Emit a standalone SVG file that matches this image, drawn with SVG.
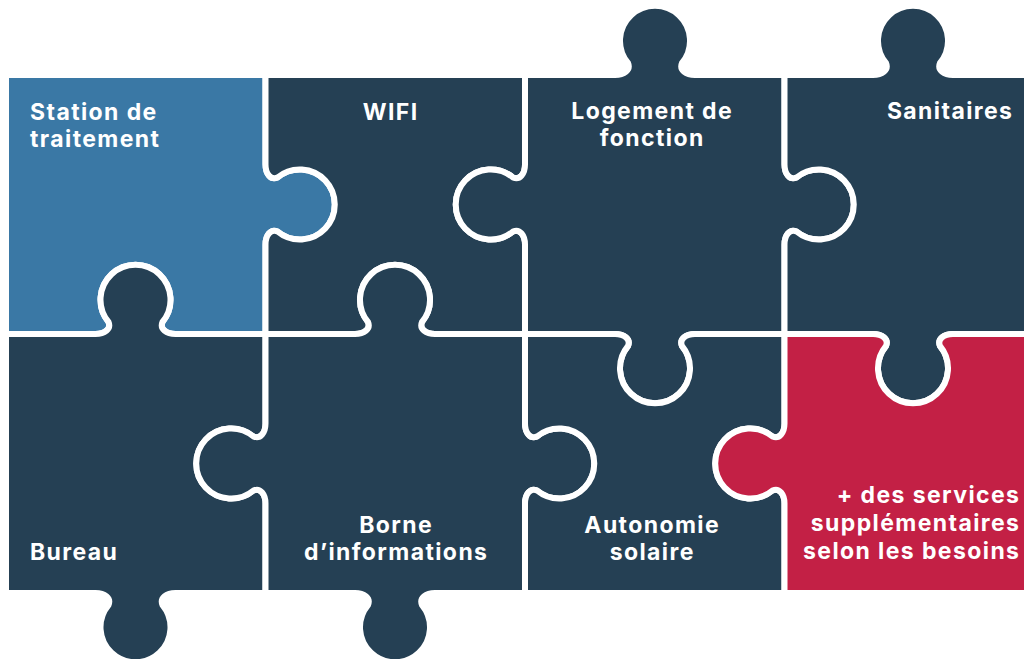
<svg xmlns="http://www.w3.org/2000/svg" width="1024" height="659" viewBox="0 0 1024 659">
<style>
.pc{stroke:#ffffff;stroke-width:6;stroke-linejoin:round}
.blue{fill:#3A78A5}
.navy{fill:#254054}
.red{fill:#C32045}
.t{font-family:Inter,"Open Sans","Liberation Sans",sans-serif;font-weight:700;font-size:23px;letter-spacing:1.4px;fill:#ffffff}
.m{text-anchor:middle}
.e{text-anchor:end}
</style>
<rect width="1024" height="659" fill="#ffffff"/>
<g id="station">
<path class="pc blue" d="M6,75 H265.5 V164.5 C265.5,173.5 270.5,180.5 277.5,177.5 A35,35 0 1,1 277.5,231.5 C270.5,228.5 265.5,235.5 265.5,244.5 V334 H175.5 C166.5,334 159.5,329 162.5,322 A35,35 0 1,0 108.5,322 C111.5,329 104.5,334 95.5,334 H6 Z"/>
<text class="t" x="30" y="119.5">Station de</text>
<text class="t" x="30" y="147">traitement</text>
</g>
<g id="wifi">
<path class="pc navy" d="M265.5,75 H525 V164.5 C525,173.5 520,180.5 513,177.5 A35,35 0 1,0 513,231.5 C520,228.5 525,235.5 525,244.5 V334 H435 C426,334 419,329 422,322 A35,35 0 1,0 368,322 C371,329 364,334 355,334 H265.5 V244.5 C265.5,235.5 270.5,228.5 277.5,231.5 A35,35 0 1,0 277.5,177.5 C270.5,180.5 265.5,173.5 265.5,164.5 Z"/>
<text class="t m" x="390.7" y="119.5">WIFI</text>
</g>
<g id="logement">
<path class="pc navy" d="M525,75 H615 C624,75 631,70 628,63 A35,35 0 1,1 682,63 C679,70 686,75 695,75 H784.5 V164.5 C784.5,173.5 789.5,180.5 796.5,177.5 A35,35 0 1,1 796.5,231.5 C789.5,228.5 784.5,235.5 784.5,244.5 V334 H695 C686,334 679,339 682,346 A35,35 0 1,1 628,346 C631,339 624,334 615,334 H525 V244.5 C525,235.5 520,228.5 513,231.5 A35,35 0 1,1 513,177.5 C520,180.5 525,173.5 525,164.5 Z"/>
<text class="t m" x="652.2" y="118.5">Logement de</text>
<text class="t m" x="652.2" y="146">fonction</text>
</g>
<g id="sanitaires">
<path class="pc navy" d="M784.5,75 H873 C882,75 889,70 886,63 A35,35 0 1,1 940,63 C937,70 944,75 953,75 H1040 V334 H953 C944,334 937,339 940,346 A35,35 0 1,1 886,346 C889,339 882,334 873,334 H784.5 V244.5 C784.5,235.5 789.5,228.5 796.5,231.5 A35,35 0 1,0 796.5,177.5 C789.5,180.5 784.5,173.5 784.5,164.5 Z"/>
<text class="t e" x="1013.4" y="119">Sanitaires</text>
</g>
<g id="bureau">
<path class="pc navy" d="M6,334 H95.5 C104.5,334 111.5,329 108.5,322 A35,35 0 1,1 162.5,322 C159.5,329 166.5,334 175.5,334 H265.5 V423.5 C265.5,432.5 260.5,439.5 253.5,436.5 A35,35 0 1,0 253.5,490.5 C260.5,487.5 265.5,494.5 265.5,503.5 V593 H175.5 C166.5,593 159.5,598 162.5,605 A35,35 0 1,1 108.5,605 C111.5,598 104.5,593 95.5,593 H6 Z"/>
<text class="t" x="30" y="560">Bureau</text>
</g>
<g id="borne">
<path class="pc navy" d="M265.5,334 H355 C364,334 371,329 368,322 A35,35 0 1,1 422,322 C419,329 426,334 435,334 H525 V423.5 C525,432.5 530,439.5 537,436.5 A35,35 0 1,1 537,490.5 C530,487.5 525,494.5 525,503.5 V593 H435 C426,593 419,598 422,605 A35,35 0 1,1 368,605 C371,598 364,593 355,593 H265.5 V503.5 C265.5,494.5 260.5,487.5 253.5,490.5 A35,35 0 1,1 253.5,436.5 C260.5,439.5 265.5,432.5 265.5,423.5 Z"/>
<text class="t m" x="396.2" y="532.5">Borne</text>
<text class="t m" x="396.2" y="560">d’informations</text>
</g>
<g id="autonomie">
<path class="pc navy" d="M525,334 H615 C624,334 631,339 628,346 A35,35 0 1,0 682,346 C679,339 686,334 695,334 H784.5 V423.5 C784.5,432.5 779.5,439.5 772.5,436.5 A35,35 0 1,0 772.5,490.5 C779.5,487.5 784.5,494.5 784.5,503.5 V593 H525 V503.5 C525,494.5 530,487.5 537,490.5 A35,35 0 1,0 537,436.5 C530,439.5 525,432.5 525,423.5 Z"/>
<text class="t m" x="652.2" y="532.5">Autonomie</text>
<text class="t m" x="652.2" y="560">solaire</text>
</g>
<g id="services">
<path class="pc red" d="M784.5,334 H873 C882,334 889,339 886,346 A35,35 0 1,0 940,346 C937,339 944,334 953,334 H1040 V593 H784.5 V503.5 C784.5,494.5 779.5,487.5 772.5,490.5 A35,35 0 1,1 772.5,436.5 C779.5,439.5 784.5,432.5 784.5,423.5 Z"/>
<text class="t e" x="1020.4" y="503">+ des services</text>
<text class="t e" x="1020.4" y="531">supplémentaires</text>
<text class="t e" x="1020.4" y="559">selon les besoins</text>
</g>
<g id="connectors"></g>
</svg>
